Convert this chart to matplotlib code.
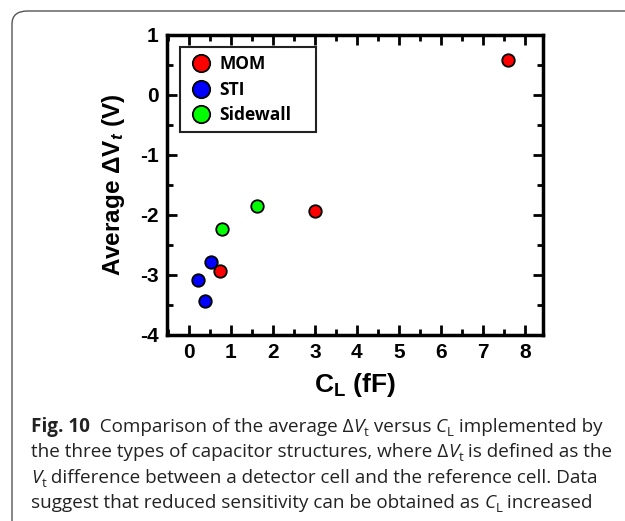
import matplotlib.pyplot as plt
from matplotlib.patches import FancyBboxPatch
from matplotlib.ticker import MultipleLocator

# data: C_L (fF) vs average delta Vt (V)
mom_x = [7.60, 3.00, 0.74]
mom_y = [0.58, -1.94, -2.94]
sti_x = [0.22, 0.52, 0.38]
sti_y = [-3.09, -2.79, -3.43]
side_x = [1.63, 0.78]
side_y = [-1.85, -2.24]

plt.rcParams['axes.unicode_minus'] = False
plt.rcParams['mathtext.fontset'] = 'custom'
plt.rcParams['mathtext.rm'] = 'Liberation Sans:bold'
plt.rcParams['mathtext.bf'] = 'Liberation Sans:bold'
plt.rcParams['mathtext.it'] = 'Liberation Sans:bold:italic'

W, H = 625, 521
fig = plt.figure(figsize=(W / 100, H / 100), dpi=100)

# outer rounded frame of the figure panel
frame = FancyBboxPatch((12 / W, -20 / H), (W + 20) / W, (H - 11 + 20) / H,
                       boxstyle="round,pad=0,rounding_size=0.025",
                       transform=fig.transFigure, fill=False,
                       edgecolor='#555555', linewidth=1.0)
fig.patches.append(frame)

ax = fig.add_axes([167 / W, 1 - 335 / H, (543 - 167) / W, (335 - 35) / H])

mk = dict(marker='o', linestyle='none', markersize=9, markeredgecolor='black',
          markeredgewidth=1.3)
ax.plot(mom_x, mom_y, color='#ff0000', label='MOM', **mk)
ax.plot(sti_x, sti_y, color='#0000ff', label='STI', **mk)
ax.plot(side_x, side_y, color='#00ff00', label='Sidewall', **mk)

ax.set_xlim(-0.52, 8.43)
ax.set_ylim(-4, 1)
ax.xaxis.set_major_locator(MultipleLocator(1))
ax.xaxis.set_minor_locator(MultipleLocator(0.5))
ax.yaxis.set_major_locator(MultipleLocator(1))
ax.yaxis.set_minor_locator(MultipleLocator(0.5))
ax.tick_params(which='both', direction='in', top=True, right=True, width=2)
ax.tick_params(which='major', length=7, labelsize=15, pad=6)
ax.tick_params(which='minor', length=4)
for lab in ax.get_xticklabels() + ax.get_yticklabels():
    lab.set_fontfamily('Liberation Sans')
    lab.set_fontweight('bold')
for s in ax.spines.values():
    s.set_linewidth(2.5)

ax.set_xlabel(r'C$_{\mathrm{L}}$ (fF)', fontsize=19, fontweight='bold',
              family='Liberation Sans', labelpad=6)
ax.set_ylabel(r'Average $\Delta$V$_{\mathit{t}}$ (V)', fontsize=17.5, fontweight='bold',
              family='Liberation Sans', labelpad=9)

# legend box stretched to the width seen in the figure
leg = ax.legend(loc='upper left', bbox_to_anchor=(0.035, 0.96 - 0.3, 0.362, 0.3),
                mode='expand', borderaxespad=0,
                fancybox=False, edgecolor='#222222', framealpha=1, handletextpad=0.3,
                borderpad=0.45, labelspacing=0.45, handlelength=1.5,
                prop={'family': 'Open Sans', 'weight': 'bold', 'size': 12.5})
leg.get_frame().set_linewidth(1.5)
for h in leg.legend_handles:
    h.set_markersize(12.5)

# caption laid out piece by piece
fig.canvas.draw()
renderer = fig.canvas.get_renderer()
base = dict(family='Open Sans', fontsize=13.6, color='#222222')


def caption_line(y, pieces):
    x = 31
    for txt, style in pieces:
        kw = dict(base)
        dy = 0
        if style == 'b':
            kw['fontweight'] = 'bold'
        elif style == 'i':
            kw['fontstyle'] = 'italic'
        elif style == 'sub':
            kw['fontsize'] = base['fontsize'] * 0.7
            dy = -4
        t = fig.text(x / W, (H - y + dy) / H, txt, va='baseline', ha='left', **kw)
        x += t.get_window_extent(renderer).width


caption_line(432, [('Fig. 10', 'b'), ('  Comparison of the average \u0394', ''), ('V', 'i'),
                   ('t', 'sub'), (' versus ', ''), ('C', 'i'), ('L', 'sub'),
                   (' implemented by', '')])
caption_line(457, [('the three types of capacitor structures, where \u0394', ''), ('V', 'i'),
                   ('t', 'sub'), (' is defined as the', '')])
caption_line(483, [('V', 'i'), ('t', 'sub'),
                   (' difference between a detector cell and the reference cell. Data', '')])
caption_line(508, [('suggest that reduced sensitivity can be obtained as ', ''), ('C', 'i'),
                   ('L', 'sub'), (' increased', '')])

fig.savefig('out.png', dpi=100)
